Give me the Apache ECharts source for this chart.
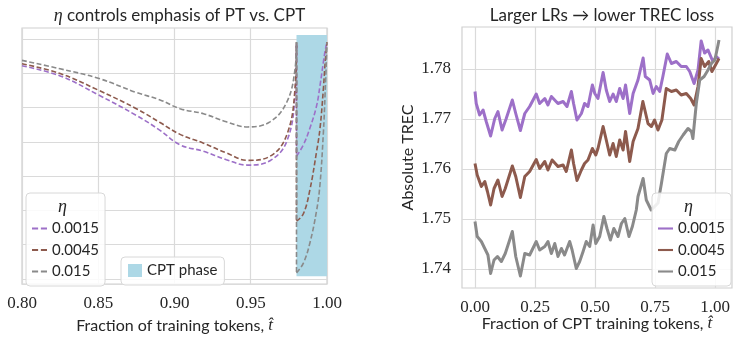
<!DOCTYPE html>
<html>
<head>
<meta charset="utf-8">
<script src="https://cdn.jsdelivr.net/npm/echarts@6/dist/echarts.min.js"></script>
<style>
  html, body { margin: 0; padding: 0; background: #fff; }
  #main { width: 733px; height: 339px; }
</style>
</head>
<body>
<div id="main"></div>
<script>
// left panel: weighting curves (arbitrary units, grid line = 1 unit)
const ptT = [0.8, 0.825, 0.85, 0.875, 0.8905, 0.9036, 0.919, 0.934, 0.948, 0.9626, 0.9736, 0.979, 0.98];
const ptPurple = [6.20, 5.90, 5.34, 4.73, 4.29, 3.86, 3.67, 3.42, 3.26, 3.39, 3.96, 5.32, 6.85];
const ptBrown  = [6.26, 5.97, 5.48, 4.93, 4.52, 4.17, 3.91, 3.62, 3.40, 3.52, 4.15, 5.51, 6.88];
const ptGray   = [6.36, 6.11, 5.83, 5.41, 5.19, 4.93, 4.78, 4.54, 4.39, 4.54, 5.12, 6.09, 6.90];

const cptT = [0.98, 0.9845, 0.9887, 0.9932, 0.9954, 0.9976, 0.9988, 1.0];
const cptPurple = [3.52, 3.86, 4.34, 5.02, 5.61, 6.30, 6.65, 6.90];
const cptBrown  = [1.60, 1.82, 2.51, 3.67, 4.34, 5.50, 6.30, 6.90];
const cptGray   = [0.07, 0.36, 0.94, 1.92, 2.69, 4.20, 5.42, 6.88];

const cptSpan = [0.98, 1.0];
const cptRange = [-0.03, 7.11];

const etaNames = ['0.0015', '0.0045', '0.015'];
const colors = ['#9d70c8', '#8d5a4d', '#8a8a8a'];

// right panel: absolute TREC loss vs fraction of CPT tokens
const tPurple = [0, 0.005, 0.019, 0.033, 0.046, 0.064, 0.081, 0.094, 0.111, 0.128, 0.153, 0.167, 0.186, 0.204, 0.224, 0.251, 0.265, 0.286, 0.299, 0.313, 0.340, 0.361, 0.377, 0.395, 0.404, 0.418, 0.436, 0.449, 0.463, 0.481, 0.491, 0.504, 0.525, 0.538, 0.552, 0.566, 0.579, 0.593, 0.607, 0.617, 0.634, 0.648, 0.668, 0.689, 0.698, 0.716, 0.730, 0.743, 0.757, 0.770, 0.788, 0.805, 0.825, 0.845, 0.866, 0.880, 0.898, 0.914, 0.927, 0.941, 0.955, 0.975, 0.989, 1.0];
const lossPurple = [1.7755, 1.7731, 1.7708, 1.7718, 1.7695, 1.7666, 1.7701, 1.7715, 1.7678, 1.7701, 1.7738, 1.7711, 1.7677, 1.7711, 1.7725, 1.7750, 1.7731, 1.7741, 1.7728, 1.7745, 1.7731, 1.7735, 1.7725, 1.7755, 1.7731, 1.7698, 1.7711, 1.7731, 1.7725, 1.7768, 1.7751, 1.7741, 1.7793, 1.7758, 1.7735, 1.7750, 1.7735, 1.7761, 1.7741, 1.7768, 1.7711, 1.7751, 1.7778, 1.7822, 1.7785, 1.7778, 1.7751, 1.7765, 1.7755, 1.7785, 1.7830, 1.7811, 1.7815, 1.7805, 1.7805, 1.7795, 1.7771, 1.7798, 1.7856, 1.7832, 1.7838, 1.7815, 1.7825, 1.7820];

const tBrown = [0, 0.009, 0.026, 0.040, 0.051, 0.064, 0.078, 0.094, 0.111, 0.124, 0.153, 0.167, 0.186, 0.204, 0.224, 0.251, 0.265, 0.286, 0.299, 0.316, 0.340, 0.361, 0.374, 0.395, 0.404, 0.418, 0.436, 0.449, 0.463, 0.481, 0.495, 0.504, 0.525, 0.538, 0.552, 0.566, 0.579, 0.593, 0.607, 0.617, 0.634, 0.648, 0.668, 0.688, 0.709, 0.723, 0.736, 0.750, 0.766, 0.784, 0.805, 0.825, 0.845, 0.866, 0.884, 0.898, 0.914, 0.927, 0.941, 0.958, 0.971, 0.989, 1.0];
const lossBrown = [1.7611, 1.7588, 1.7565, 1.7575, 1.7555, 1.7528, 1.7561, 1.7578, 1.7545, 1.7561, 1.7606, 1.7585, 1.7543, 1.7585, 1.7595, 1.7619, 1.7601, 1.7615, 1.7598, 1.7618, 1.7605, 1.7608, 1.7595, 1.7638, 1.7611, 1.7577, 1.7598, 1.7611, 1.7618, 1.7641, 1.7628, 1.7641, 1.7685, 1.7658, 1.7628, 1.7651, 1.7625, 1.7658, 1.7638, 1.7675, 1.7615, 1.7655, 1.7681, 1.7735, 1.7691, 1.7685, 1.7698, 1.7678, 1.7698, 1.7761, 1.7755, 1.7758, 1.7748, 1.7751, 1.7741, 1.7728, 1.7765, 1.7821, 1.7805, 1.7815, 1.7795, 1.7811, 1.7821];

const tGray = [0, 0.009, 0.026, 0.040, 0.053, 0.064, 0.078, 0.092, 0.108, 0.124, 0.142, 0.153, 0.167, 0.186, 0.204, 0.224, 0.251, 0.265, 0.286, 0.299, 0.313, 0.327, 0.340, 0.354, 0.367, 0.388, 0.398, 0.415, 0.429, 0.443, 0.456, 0.470, 0.484, 0.495, 0.511, 0.528, 0.541, 0.555, 0.569, 0.586, 0.600, 0.614, 0.631, 0.645, 0.661, 0.668, 0.689, 0.702, 0.722, 0.750, 0.764, 0.784, 0.798, 0.819, 0.835, 0.853, 0.873, 0.887, 0.893, 0.907, 0.921, 0.939, 0.955, 0.969, 0.983, 0.996, 1.0];
const lossGray = [1.7495, 1.7465, 1.7455, 1.7441, 1.7428, 1.7391, 1.7418, 1.7425, 1.7415, 1.7431, 1.7458, 1.7475, 1.7425, 1.7386, 1.7431, 1.7428, 1.7455, 1.7438, 1.7445, 1.7455, 1.7431, 1.7451, 1.7425, 1.7441, 1.7428, 1.7455, 1.7438, 1.7401, 1.7415, 1.7435, 1.7455, 1.7445, 1.7488, 1.7451, 1.7465, 1.7505, 1.7481, 1.7458, 1.7481, 1.7465, 1.7491, 1.7501, 1.7465, 1.7485, 1.7518, 1.7545, 1.7581, 1.7538, 1.7518, 1.7532, 1.7571, 1.7631, 1.7641, 1.7638, 1.7655, 1.7668, 1.7681, 1.7675, 1.7661, 1.7731, 1.7778, 1.7785, 1.7798, 1.7811, 1.7818, 1.7848, 1.7858];

const sans = 'Lato';
const serif = 'Liberation Serif';
const ink = '#262626';
const gridCol = '#dadada';

const zip = (xs, ys) => xs.map((x, i) => [x, ys[i]]);

const ptVals = [ptPurple, ptBrown, ptGray];
const cptVals = [cptPurple, cptBrown, cptGray];
const rightT = [tPurple, tBrown, tGray];
const rightLoss = [lossPurple, lossBrown, lossGray];

const dash = [5, 2.5];
const dashIcon = 'path://M0,0h5.5v1.7h-5.5z M8,0h5.5v1.7h-5.5z';
const solidIcon = 'path://M0,0h13.5v1.9h-13.5z';
const series = [];

series.push({
    name: 'CPT phase',
    type: 'line',
    xAxisIndex: 0, yAxisIndex: 0,
    data: [],
    itemStyle: {color: '#add8e6'},
    z: 1,
    markArea: {
        silent: true,
        itemStyle: {color: '#add8e6'},
        data: [[{coord: [cptSpan[0], cptRange[0]]}, {coord: [cptSpan[1], cptRange[1]]}]]
    }
});

etaNames.forEach((n, i) => {
    const common = {
        name: 'L' + n, type: 'line', xAxisIndex: 0, yAxisIndex: 0,
        symbol: 'none', itemStyle: {color: colors[i]},
        lineStyle: {color: colors[i], width: 1.6, type: dash}, z: 3
    };
    const pt = zip(ptT, ptVals[i]);
    const cpt = zip(cptT, cptVals[i]);
    series.push(Object.assign({}, common, {data: pt, smooth: 0.4}));
    series.push(Object.assign({}, common, {data: [pt[pt.length - 1], cpt[0]]}));
    series.push(Object.assign({}, common, {data: cpt, smooth: 0.4}));
});

etaNames.forEach((n, i) => {
    series.push({
        name: 'R' + n, type: 'line', xAxisIndex: 2, yAxisIndex: 2,
        symbol: 'none', itemStyle: {color: colors[i]},
        lineStyle: {color: colors[i], width: 3, join: 'round'},
        data: zip(rightT[i], rightLoss[i]), z: 3
    });
});

const tickFont = {fontFamily: serif, fontSize: 17, color: ink};
const split = {show: true, lineStyle: {color: gridCol, width: 1.2}};
const off = {show: false};
const nameFont = {fontFamily: sans, fontSize: 16, color: ink,
    rich: {m: {fontFamily: serif, fontStyle: 'italic', fontSize: 17, color: ink}}};

const legendBase = {
    orient: 'vertical',
    itemWidth: 15, itemHeight: 14, itemGap: 6.5,
    padding: [28, 6, 7, 6],
    backgroundColor: 'rgba(255,255,255,0.85)',
    borderColor: '#d8d8d8', borderWidth: 1, borderRadius: 4,
    textStyle: {fontFamily: sans, fontSize: 15, color: ink},
    formatter: name => name.slice(1),
    z: 10
};

const option = {
    animation: false,
    title: [
        {
            text: '{e|η} controls emphasis of PT vs. CPT',
            left: 174.5, top: 2, textAlign: 'center',
            textStyle: {fontFamily: sans, fontSize: 17, fontWeight: 'normal', color: ink,
                rich: {e: {fontFamily: serif, fontStyle: 'italic', fontSize: 18, color: ink}}}
        },
        {
            text: 'Larger LRs → lower TREC loss',
            left: 597, top: 2, textAlign: 'center',
            textStyle: {fontFamily: sans, fontSize: 17, fontWeight: 'normal', color: ink}
        }
    ],
    grid: [
        {left: 22, top: 28, width: 305, height: 260, show: true, borderColor: '#d0d0d0', borderWidth: 1.2, backgroundColor: 'transparent'},
        {left: 22, top: 38.9, width: 305, height: 240.1},
        {left: 462, top: 27, width: 270, height: 261, show: true, borderColor: '#d0d0d0', borderWidth: 1.2, backgroundColor: 'transparent'},
        {left: 475, top: 27, width: 244, height: 261},
        {left: 462, top: 69, width: 270, height: 200}
    ],
    xAxis: [
        {
            gridIndex: 0, type: 'value', min: 0.8, max: 1.0, interval: 0.05,
            axisLine: off, axisTick: off, splitLine: split,
            axisLabel: Object.assign({margin: 11, formatter: v => v.toFixed(2)}, tickFont),
            name: 'Fraction of training tokens, {m|t̂}', nameLocation: 'middle', nameGap: 27,
            nameTextStyle: nameFont
        },
        {gridIndex: 1, type: 'value', min: 0.8, max: 1.0, show: false},
        {
            gridIndex: 2, type: 'value', min: -0.0533, max: 1.0533,
            axisLine: off, axisTick: off, splitLine: off, axisLabel: off,
            name: 'Fraction of CPT training tokens, {m|t̂}', nameLocation: 'middle', nameGap: 27,
            nameTextStyle: nameFont
        },
        {
            gridIndex: 3, type: 'value', min: 0, max: 1, interval: 0.25,
            axisLine: off, axisTick: off, splitLine: split,
            axisLabel: Object.assign({margin: 11, formatter: v => v.toFixed(2)}, tickFont)
        },
        {gridIndex: 4, type: 'value', min: -0.0533, max: 1.0533, show: false}
    ],
    yAxis: [
        {gridIndex: 0, type: 'value', min: -0.262, max: 7.318, show: false},
        {
            gridIndex: 1, type: 'value', min: 0, max: 7, interval: 1,
            axisLine: off, axisTick: off, axisLabel: off, splitLine: split
        },
        {
            gridIndex: 2, type: 'value', min: 1.7362, max: 1.7884,
            axisLine: off, axisTick: off, axisLabel: off, splitLine: off,
            name: 'Absolute TREC', nameLocation: 'middle', nameGap: 46,
            nameTextStyle: {fontFamily: sans, fontSize: 16, color: ink}
        },
        {gridIndex: 3, type: 'value', min: 0, max: 1, show: false},
        {
            gridIndex: 4, type: 'value', min: 1.74, max: 1.78, interval: 0.01,
            axisLine: off, axisTick: off, splitLine: split,
            axisLabel: Object.assign({margin: 11, formatter: v => v.toFixed(2)}, tickFont)
        }
    ],
    legend: [
        Object.assign({}, legendBase, {
            left: 26, top: 193,
            data: etaNames.map(n => ({name: 'L' + n, icon: dashIcon}))
        }),
        Object.assign({}, legendBase, {
            left: 652, top: 193,
            data: etaNames.map(n => ({name: 'R' + n, icon: solidIcon}))
        }),
        Object.assign({}, legendBase, {
            left: 121, top: 257,
            padding: [6, 7, 7, 7],
            icon: 'rect', itemWidth: 14, itemHeight: 13,
            formatter: name => name,
            data: ['CPT phase']
        })
    ],
    graphic: [
        {type: 'text', left: 58, top: 198, z: 100,
            style: {text: 'η', font: 'italic 18px "Liberation Serif"', fill: ink}},
        {type: 'text', left: 684, top: 198, z: 100,
            style: {text: 'η', font: 'italic 18px "Liberation Serif"', fill: ink}}
    ],
    series: series
};

const chart = echarts.init(document.getElementById('main'), null, {renderer: 'canvas'});
chart.setOption(option);
</script>
</body>
</html>
